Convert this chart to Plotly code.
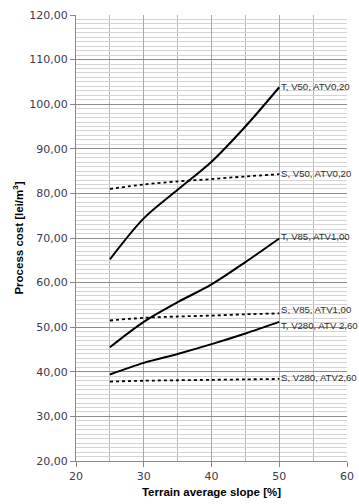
import plotly.graph_objects as go

slope = [25, 30, 35, 40, 45, 50]

t_v50 = [65.2, 74.4, 80.8, 87.1, 95.0, 103.8]
s_v50 = [81.0, 82.0, 82.7, 83.2, 83.8, 84.3]
t_v85 = [45.5, 51.2, 55.6, 59.6, 64.6, 69.9]
s_v85 = [51.5, 52.1, 52.4, 52.6, 52.9, 53.1]
t_v280 = [39.4, 42.0, 44.0, 46.2, 48.6, 51.2]
s_v280 = [37.8, 38.0, 38.1, 38.2, 38.3, 38.4]

series = [
    ("T, V50, ATV0,20", t_v50, "solid", 1),
    ("S, V50, ATV0,20", s_v50, "dot", 1),
    ("T, V85, ATV1,00", t_v85, "solid", 2),
    ("S, V85, ATV1,00", s_v85, "dot", 4),
    ("T, V280, ATV 2,60", t_v280, "solid", -4),
    ("S, V280, ATV2,60", s_v280, "dot", 1),
]

fig = go.Figure()
for name, vals, dash, ysh in series:
    fig.add_trace(go.Scatter(
        x=slope, y=vals, mode="lines", name=name,
        line=dict(color="black", width=2 if dash == "solid" else 1.8,
                  dash=dash, shape="spline", smoothing=0.9),
        showlegend=False, hoverinfo="skip"))
    fig.add_annotation(x=slope[-1], y=vals[-1], text=name, showarrow=False,
                       xanchor="left", yanchor="middle", xshift=0, yshift=ysh,
                       font=dict(family="Liberation Sans", size=9.6, color="#303030"))

fig.update_layout(
    width=359, height=504,
    margin=dict(l=76, r=12, t=15, b=43),
    paper_bgcolor="white", plot_bgcolor="white",
    separators=", ",
    font=dict(family="DejaVu Sans", size=11, color="#3a3a50"),
)
fig.update_xaxes(
    range=[20, 60], tick0=20, dtick=10, showgrid=True, gridcolor="#a8a8a8", gridwidth=1,
    minor=dict(dtick=5, showgrid=True, gridcolor="#b8b8b8", ticks=""),
    showline=True, linecolor="#888888", linewidth=1,
    ticks="outside", ticklen=5, tickcolor="#888888",
    tickfont=dict(family="DejaVu Sans", size=11, color="#3a3a50"),
    title=dict(text="<b>Terrain average slope [%]</b>", standoff=5,
               font=dict(family="Liberation Sans", size=11.5, color="black")),
    zeroline=False, automargin=False,
)
fig.update_yaxes(
    range=[20, 120], tick0=20, dtick=10, tickformat=".2f",
    showgrid=True, gridcolor="#8c8c8c", gridwidth=1,
    minor=dict(dtick=1, showgrid=True, gridcolor="#d4d4d4", ticks=""),
    showline=True, linecolor="#888888", linewidth=1,
    ticks="outside", ticklen=5, tickcolor="#888888",
    tickfont=dict(family="DejaVu Sans", size=11, color="#3a3a50"),
    title=dict(text="<b>Process cost [lei/m<sup>3</sup>]</b>", standoff=3,
               font=dict(family="Liberation Sans", size=11.5, color="black")),
    zeroline=False, automargin=False,
)

fig.write_html("out.html", config={"displayModeBar": False},
               post_script="document.body.style.margin='0';document.body.style.overflow='hidden';")
